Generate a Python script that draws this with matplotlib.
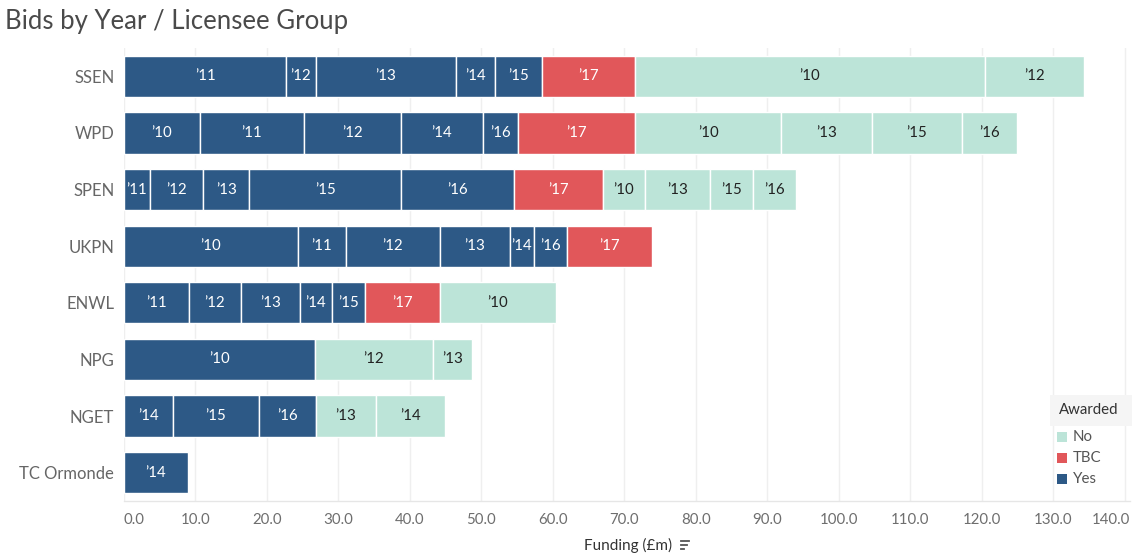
import matplotlib
matplotlib.use("Agg")
import matplotlib.pyplot as plt
from matplotlib.patches import Rectangle
from matplotlib.lines import Line2D
import matplotlib.transforms as mtransforms

plt.rcParams['font.family'] = ['Lato', 'DejaVu Sans']

# ---------------- data ----------------
groups = ['SSEN', 'WPD', 'SPEN', 'UKPN', 'ENWL', 'NPG', 'NGET', 'TC Ormonde']

ssen_award = ['Yes', 'Yes', 'Yes', 'Yes', 'Yes', 'TBC', 'No', 'No']
ssen_year = ["’11", "’12", "’13", "’14", "’15", "’17", "’10", "’12"]
ssen_val = [22.7, 4.1, 19.6, 5.5, 6.6, 13.0, 48.9, 13.9]

wpd_award = ['Yes', 'Yes', 'Yes', 'Yes', 'Yes', 'TBC', 'No', 'No', 'No', 'No']
wpd_year = ["’10", "’11", "’12", "’14", "’16", "’17", "’10", "’13", "’15", "’16"]
wpd_val = [10.6, 14.6, 13.5, 11.5, 4.9, 16.4, 20.4, 12.7, 12.6, 7.7]

spen_award = ['Yes', 'Yes', 'Yes', 'Yes', 'Yes', 'TBC', 'No', 'No', 'No', 'No']
spen_year = ["’11", "’12", "’13", "’15", "’16", "’17", "’10", "’13", "’15", "’16"]
spen_val = [3.6, 7.5, 6.4, 21.3, 15.7, 12.5, 5.8, 9.2, 6.0, 6.0]

ukpn_award = ['Yes', 'Yes', 'Yes', 'Yes', 'Yes', 'Yes', 'TBC']
ukpn_year = ["’10", "’11", "’12", "’13", "’14", "’16", "’17"]
ukpn_val = [24.3, 6.7, 13.2, 9.8, 3.3, 4.7, 11.9]

enwl_award = ['Yes', 'Yes', 'Yes', 'Yes', 'Yes', 'TBC', 'No']
enwl_year = ["’11", "’12", "’13", "’14", "’15", "’17", "’10"]
enwl_val = [9.1, 7.2, 8.3, 4.5, 4.6, 10.5, 16.2]

npg_award = ['Yes', 'No', 'No']
npg_year = ["’10", "’12", "’13"]
npg_val = [26.7, 16.5, 5.5]

nget_award = ['Yes', 'Yes', 'Yes', 'No', 'No']
nget_year = ["’14", "’15", "’16", "’13", "’14"]
nget_val = [6.8, 12.1, 7.9, 8.5, 9.6]

tco_award = ['Yes']
tco_year = ["’14"]
tco_val = [8.9]

x_ticks = [0, 10, 20, 30, 40, 50, 60, 70, 80, 90, 100, 110, 120, 130, 140]
legend_items = ['No', 'TBC', 'Yes']

# --------------- styling ---------------
colors = {'Yes': '#2d5986', 'TBC': '#e1575a', 'No': '#bce4d8'}
text_colors = {'Yes': 'white', 'TBC': 'white', 'No': '#222222'}

series = [
    (ssen_award, ssen_year, ssen_val),
    (wpd_award, wpd_year, wpd_val),
    (spen_award, spen_year, spen_val),
    (ukpn_award, ukpn_year, ukpn_val),
    (enwl_award, enwl_year, enwl_val),
    (npg_award, npg_year, npg_val),
    (nget_award, nget_year, nget_val),
    (tco_award, tco_year, tco_val),
]

W, H = 1132, 559
fig = plt.figure(figsize=(W / 100, H / 100), dpi=100)
ax = fig.add_axes([124 / W, 1 - 501 / H, 1006 / W, 453 / H])

for i, (aw, yr, vals) in enumerate(series):
    left = 0.0
    for a, y, v in zip(aw, yr, vals):
        ax.barh(i, v, left=left, height=0.73, color=colors[a],
                edgecolor='white', linewidth=1.0, zorder=3)
        ax.text(left + v / 2, i, y, ha='center', va='center',
                color=text_colors[a], fontsize=10.8, zorder=4)
        left += v

ax.set_ylim(len(groups) - 0.5, -0.5)
ax.set_xlim(0, 140.7)
ax.set_yticks(range(len(groups)))
ax.set_yticklabels(groups, fontsize=12, color='#666666')
ax.set_xticks(x_ticks)
ax.set_xticklabels([f"{t:.1f}" for t in x_ticks], fontsize=10.8, color='#6e6e6e')
ax.tick_params(axis='both', length=0)
ax.tick_params(axis='y', pad=7)
ax.tick_params(axis='x', pad=9)

labels = ax.get_xticklabels()
labels[0].set_horizontalalignment('left')
labels[-1].set_horizontalalignment('right')
labels[-1].set_transform(labels[-1].get_transform() +
                         mtransforms.ScaledTranslation(5 / 100, 0, fig.dpi_scale_trans))

ax.grid(axis='x', color='#efefef', linewidth=1.0, zorder=0)
ax.grid(axis='y', visible=False)
for s in ['top', 'right', 'left']:
    ax.spines[s].set_visible(False)
ax.spines['bottom'].set_color('#e6e6e6')
ax.spines['bottom'].set_linewidth(1.0)

# title
fig.text(5 / W, 1 - 22 / H, 'Bids by Year / Licensee Group', fontsize=18.5,
         color='#4a4a4a', ha='left', va='center')

# axis title with sort icon
fig.text(628 / W, 1 - 545 / H, 'Funding (£m)', fontsize=11, color='#333333',
         ha='center', va='center')
for k, ln in enumerate([8, 6, 3]):
    yy = 1 - (541 + k * 4) / H
    fig.add_artist(Line2D([681 / W, (681 + ln) / W], [yy, yy],
                          color='#555555', linewidth=1.3))

# legend
fig.add_artist(Rectangle((1050 / W, 1 - 426 / H), 82 / W, 31 / H,
                         transform=fig.transFigure, facecolor='#f5f5f5',
                         edgecolor='none', zorder=5))
fig.text(1059 / W, 1 - 410 / H, 'Awarded', fontsize=10.8, color='#333333',
         ha='left', va='center', zorder=6)
for k, name in enumerate(legend_items):
    yc = 437 + k * 21
    fig.add_artist(Rectangle((1057 / W, 1 - (yc + 5) / H), 10 / W, 10 / H,
                             transform=fig.transFigure, facecolor=colors[name],
                             edgecolor='none', zorder=6))
    fig.text(1073 / W, 1 - yc / H, name, fontsize=10.8, color='#555555',
             ha='left', va='center', zorder=6)

fig.savefig('out.png', dpi=100)
